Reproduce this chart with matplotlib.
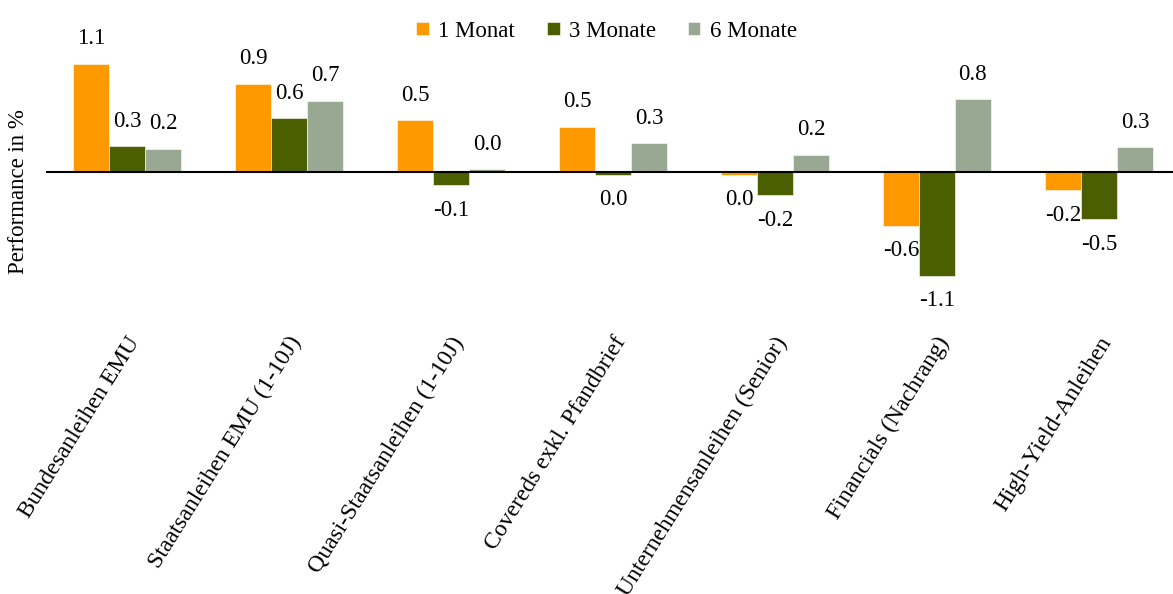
import numpy as np
import matplotlib
matplotlib.use("Agg")
import matplotlib.pyplot as plt

plt.rcParams['font.family'] = ['Liberation Serif', 'DejaVu Serif']

categories = ["Bundesanleihen EMU", "Staatsanleihen EMU (1-10J)",
              "Quasi-Staatsanleihen (1-10J)", "Covereds exkl. Pfandbrief",
              "Unternehmensanleihen (Senior)", "Financials (Nachrang)",
              "High-Yield-Anleihen"]
m1 = [1.13, 0.92, 0.54, 0.47, -0.03, -0.56, -0.19]
m3 = [0.27, 0.56, -0.14, -0.03, -0.24, -1.08, -0.49]
m6 = [0.24, 0.74, 0.03, 0.30, 0.18, 0.76, 0.26]
series_names = ["1 Monat", "3 Monate", "6 Monate"]
colors = ["#FF9900", "#4B5E00", "#99A893"]

def fmt(v):
    s = f"{v:.1f}"
    return "0.0" if s == "-0.0" else s

fig = plt.figure(figsize=(11.73, 5.94), dpi=100)
ax = fig.add_axes([46/1173, (594-322)/594, 1 - 46/1173, 312/594])

x = np.arange(len(categories))
w = 0.222
for i, (vals, name, c) in enumerate(zip([m1, m3, m6], series_names, colors)):
    pos = x + (i - 1) * w
    ax.bar(pos, vals, w, color=c, edgecolor="white", linewidth=0.4, label=name)
    for px, v in zip(pos, vals):
        off = 18 if v >= 0 else -18
        ax.annotate(fmt(v), (px, v), xytext=(0, off), textcoords="offset points",
                    ha="center", va="center", fontsize=16.5)

ax.axhline(0, color="black", lw=1.5)
ax.set_xlim(-0.5, 6.457)
ax.set_ylim(-1.5625, 1.6875)
for s in ax.spines.values():
    s.set_visible(False)
ax.set_yticks([])
ax.set_xticks(x + 0.05)
ax.set_xticklabels(categories, rotation=58, ha="right", va="center",
                   rotation_mode="anchor", fontsize=17)
ax.tick_params(axis="x", length=0, pad=12)
fig.text(19/1173, 1 - 192/594, "Performance in %", rotation=90,
         ha="center", va="center", fontsize=16.5)

fig.legend(loc="upper center", bbox_to_anchor=(0.517, 1.0), ncol=3,
           frameon=False, fontsize=16.5, handlelength=0.55, handleheight=0.55,
           handletextpad=0.4, columnspacing=1.4)

fig.savefig("out.png", dpi=100)
